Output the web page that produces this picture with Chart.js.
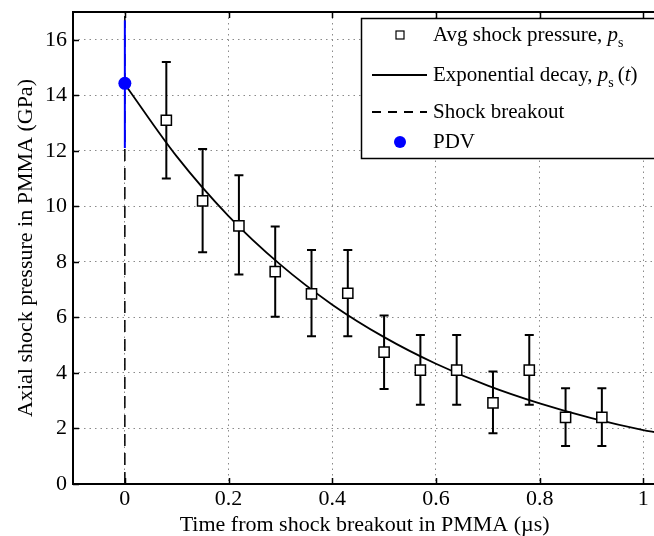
<!DOCTYPE html>
<html>
<head>
<meta charset="utf-8">
<script src="https://cdn.jsdelivr.net/npm/chart.js@4/dist/chart.umd.min.js"></script>
<style>
  html, body { margin: 0; padding: 0; background: #fff; overflow: hidden; }
  #wrap { width: 654px; height: 536px; position: relative; overflow: hidden; }
</style>
</head>
<body>
<div id="wrap"><canvas id="c" width="665" height="536"></canvas></div>
<script>
// ---- data ----
const avgTime = [0.08, 0.15, 0.22, 0.29, 0.36, 0.43, 0.50, 0.57, 0.64, 0.71, 0.78, 0.85, 0.92];
const avgPressure = [13.1, 10.2, 9.3, 7.65, 6.85, 6.87, 4.75, 4.1, 4.1, 2.92, 4.1, 2.4, 2.4];
const avgErrLow = [11.0, 8.35, 7.55, 6.02, 5.32, 5.32, 3.42, 2.85, 2.85, 1.83, 2.85, 1.37, 1.37];
const avgErrHigh = [15.2, 12.07, 11.12, 9.27, 8.43, 8.43, 6.07, 5.37, 5.37, 4.05, 5.37, 3.45, 3.45];
const fitTime = [0, 0.1, 0.2, 0.3, 0.4, 0.5, 0.6, 0.7, 0.8, 0.9, 1.0, 1.025];
const fitPressure = [14.4, 11.8, 9.65, 7.9, 6.46, 5.29, 4.33, 3.54, 2.9, 2.37, 1.94, 1.86];
const breakoutTime = [0, 0];
const breakoutPressure = [0, 17];
const pdvTime = [0];
const pdvPressure = [14.43];
const pdvErrLow = [12.1];
const pdvErrHigh = [16.7];
const xTicks = [0, 0.2, 0.4, 0.6, 0.8, 1];
const yTicks = [0, 2, 4, 6, 8, 10, 12, 14, 16];

const FONT = '"Liberation Serif", "Times New Roman", serif';

function pts(xs, ys) { return xs.map((x, i) => ({ x: x, y: ys[i] })); }

const errorBars = {
  id: 'errorBars',
  beforeDatasetDraw(chart, args) {
    const ds = chart.data.datasets[args.index];
    if (!ds.errLow) return;
    const ctx = chart.ctx, xs = chart.scales.x, ys = chart.scales.y;
    ctx.save();
    ctx.strokeStyle = ds.errColor;
    ctx.lineWidth = ds.errWidth;
    ds.data.forEach((p, i) => {
      const px = xs.getPixelForValue(p.x);
      const y1 = ys.getPixelForValue(ds.errLow[i]);
      const y2 = ys.getPixelForValue(ds.errHigh[i]);
      ctx.beginPath();
      ctx.moveTo(px, y1); ctx.lineTo(px, y2);
      if (ds.capHalf) {
        ctx.moveTo(px - ds.capHalf, y1); ctx.lineTo(px + ds.capHalf, y1);
        ctx.moveTo(px - ds.capHalf, y2); ctx.lineTo(px + ds.capHalf, y2);
      }
      ctx.stroke();
    });
    ctx.restore();
  }
};

const frameAndLegend = {
  id: 'frameAndLegend',
  afterDraw(chart) {
    const ctx = chart.ctx, a = chart.chartArea, xs = chart.scales.x, ys = chart.scales.y;
    ctx.save();
    // frame
    ctx.strokeStyle = '#000';
    ctx.lineWidth = 2;
    ctx.strokeRect(a.left, a.top, a.right - a.left, a.bottom - a.top);
    // inward ticks (bottom, top, left)
    ctx.lineWidth = 1.5;
    ctx.beginPath();
    const tl = 6;
    xTicks.forEach(v => {
      const px = Math.round(xs.getPixelForValue(v)) + 0.5;
      ctx.moveTo(px, a.bottom); ctx.lineTo(px, a.bottom - tl);
      ctx.moveTo(px, a.top); ctx.lineTo(px, a.top + tl);
    });
    yTicks.forEach(v => {
      const py = Math.round(ys.getPixelForValue(v)) + 0.5;
      ctx.moveTo(a.left, py); ctx.lineTo(a.left + tl, py);
    });
    ctx.stroke();

    // legend box
    const bx = 361, by = 18, bw = 300, bh = 140;
    ctx.fillStyle = '#fff';
    ctx.fillRect(bx, by, bw, bh);
    ctx.lineWidth = 1.5;
    ctx.strokeStyle = '#000';
    ctx.strokeRect(bx + 0.5, by + 0.5, bw, bh);

    const tx = 433, sx = 400;
    const rows = [35, 75, 112, 142];
    ctx.textBaseline = 'middle';
    ctx.fillStyle = '#000';
    // row 1 symbol: square
    ctx.lineWidth = 1.2;
    ctx.strokeRect(sx - 4, rows[0] - 4, 8, 8);
    // row 2 symbol: solid line
    ctx.lineWidth = 1.8;
    ctx.beginPath(); ctx.moveTo(372, rows[1]); ctx.lineTo(427, rows[1]); ctx.stroke();
    // row 3 symbol: dashed line
    ctx.setLineDash([9, 7]);
    ctx.beginPath(); ctx.moveTo(372, rows[2]); ctx.lineTo(427, rows[2]); ctx.stroke();
    ctx.setLineDash([]);
    // row 4 symbol: blue dot
    ctx.fillStyle = '#0000ff';
    ctx.beginPath(); ctx.arc(sx, rows[3], 6, 0, Math.PI * 2); ctx.fill();

    ctx.fillStyle = '#000';
    const norm = '21px ' + FONT, ital = 'italic 21px ' + FONT, sub = '14px ' + FONT;
    function seq(parts, x, y) {
      parts.forEach(p => {
        ctx.font = p[1];
        ctx.fillText(p[0], x, y + (p[2] || 0));
        x += ctx.measureText(p[0]).width + (p[3] || 0);
      });
    }
    seq([['Avg shock pressure, ', norm], ['p', ital], ['s', sub, 8]], tx, rows[0]);
    seq([['Exponential decay, ', norm], ['p', ital], ['s', sub, 8, 4], ['(', norm], ['t', ital], [')', norm]], tx, rows[1]);
    seq([['Shock breakout', norm]], tx, rows[2]);
    seq([['PDV', norm]], tx, rows[3]);
    ctx.restore();
  }
};

new Chart(document.getElementById('c'), {
  type: 'scatter',
  data: {
    datasets: [
      {
        label: 'PDV',
        data: pts(pdvTime, pdvPressure),
        errLow: pdvErrLow, errHigh: pdvErrHigh, errColor: '#0000ff', errWidth: 2, capHalf: 0,
        pointStyle: 'circle', pointRadius: 6.5,
        backgroundColor: '#0000ff', borderColor: '#0000ff', borderWidth: 0,
        showLine: false
      },
      {
        label: 'Avg shock pressure, ps',
        data: pts(avgTime, avgPressure),
        errLow: avgErrLow, errHigh: avgErrHigh, errColor: '#000', errWidth: 2, capHalf: 4.5,
        pointStyle: 'rect', pointRadius: 7.2,
        backgroundColor: '#fff', borderColor: '#000', borderWidth: 1.5,
        showLine: false
      },
      {
        label: 'Exponential decay, ps(t)',
        data: pts(fitTime, fitPressure),
        showLine: true, pointRadius: 0, borderColor: '#000', borderWidth: 1.8,
        tension: 0.4, cubicInterpolationMode: 'monotone', fill: false
      },
      {
        label: 'Shock breakout',
        data: pts(breakoutTime, breakoutPressure),
        showLine: true, pointRadius: 0, borderColor: '#000', borderWidth: 1.5,
        borderDash: [12, 7], fill: false
      }
    ]
  },
  plugins: [errorBars, frameAndLegend],
  options: {
    responsive: false,
    animation: false,
    clip: false,
    layout: { padding: { left: 0, right: 0, top: 12, bottom: 0 } },
    plugins: { legend: { display: false }, tooltip: { enabled: false } },
    scales: {
      x: {
        type: 'linear', min: -0.1, max: 1.025,
        afterBuildTicks: s => { s.ticks = xTicks.map(v => ({ value: v })); },
        afterFit: s => { s.height = 52; s.paddingRight = 0; s.paddingLeft = 0; },
        grid: { color: '#8a8a8a', lineWidth: 1, drawTicks: false },
        border: { display: false, dash: [1.5, 4] },
        ticks: { color: '#000', font: { family: FONT, size: 22 }, padding: 2, maxRotation: 0,
                 callback: v => String(v) },
        title: { display: true, text: 'Time from shock breakout in PMMA (µs)', color: '#000',
                 font: { family: FONT, size: 22 }, padding: { top: 0, bottom: -2 } }
      },
      y: {
        type: 'linear', min: 0, max: 17,
        afterBuildTicks: s => { s.ticks = yTicks.map(v => ({ value: v })); },
        afterFit: s => { s.width = 73; s.paddingTop = 0; s.paddingBottom = 0; },
        grid: { color: '#8a8a8a', lineWidth: 1, drawTicks: false },
        border: { display: false, dash: [1.5, 4] },
        ticks: { color: '#000', font: { family: FONT, size: 22 }, padding: 6,
                 callback: v => String(v) },
        title: { display: true, text: 'Axial shock pressure in PMMA (GPa)', color: '#000',
                 font: { family: FONT, size: 22 }, padding: { top: 13, bottom: 0 } }
      }
    }
  }
});
</script>
</body>
</html>
